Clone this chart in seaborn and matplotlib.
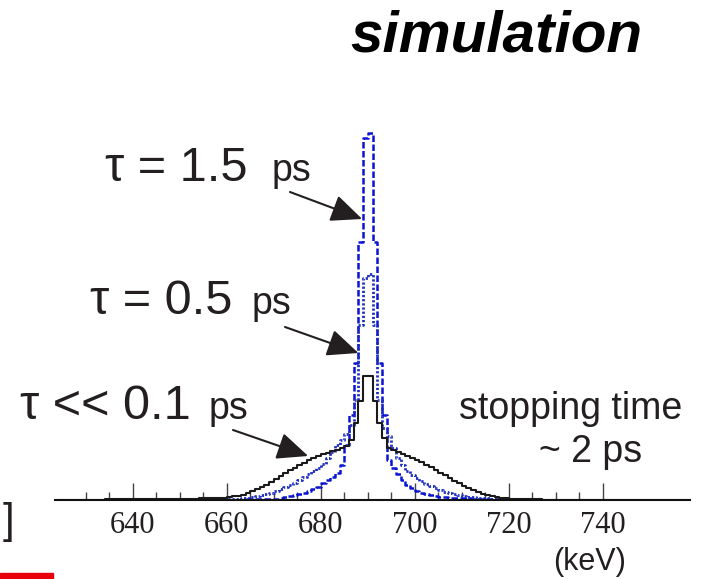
"""
Doppler line shape simulation: three lifetimes compared with a ~2 ps stopping time
"""
import numpy as np
import pandas as pd
import matplotlib.pyplot as plt
import seaborn as sns
from matplotlib.patches import Rectangle
from matplotlib.ticker import FixedLocator

# Energy bins (keV), 1 keV wide, left edges 624 ... 758
energy = np.arange(624, 759)

# tau = 1.5 ps (blue dashed)
counts_tau_long = [
    0.3, 0.3, 0.3, 0.3, 0.3, 0.3, 0.3, 0.3, 0.3, 0.3, 0.3, 0.3, 0.3, 0.3, 0.3, 0.3,  # 624-639
    0.3, 0.3, 0.3, 0.3, 0.3, 0.3, 0.3, 0.3, 0.3, 0.3,  # 640-649
    0.3, 0.3, 0.3, 0.3, 0.3, 0.3, 0.3, 0.3, 0.3, 0.3,  # 650-659
    0.4, 0.4, 0.5, 0.5, 0.6, 0.7, 0.8, 0.9, 1.0, 1.2,  # 660-669
    1.5, 2, 3, 4, 5, 6, 7.5, 9, 11, 13,  # 670-679
    17, 20, 23, 27, 35, 55, 85, 137, 258, 362,  # 680-689
    367, 258, 137, 85, 40, 32, 26, 20, 15, 12,  # 690-699
    9, 7, 6, 5, 4, 3.5, 3, 2.5, 2.2, 2,  # 700-709
    1.8, 1.6, 1.4, 1.2, 1.0, 0.9, 0.8, 0.7, 0.6, 0.5,  # 710-719
    0.4, 0.4, 0.4, 0.4, 0.4, 0.3, 0.3, 0.3, 0.3, 0.3,  # 720-729
    0.3, 0.3, 0.3, 0.3, 0.3, 0.3, 0.3, 0.3, 0.3, 0.3,  # 730-739
    0.2, 0.2, 0.2, 0.2, 0.2, 0.2, 0.2, 0.2, 0.2, 0.2,  # 740-749
    0.2, 0.2, 0.2, 0.2, 0.2, 0.2, 0.2, 0.2, 0.2,  # 750-758
]

# tau = 0.5 ps (blue dotted)
counts_tau_mid = [
    0.2, 0.2, 0.2, 0.2, 0.3, 0.3, 0.3, 0.3, 0.3, 0.3, 0.3, 0.3, 0.4, 0.4, 0.4, 0.4,  # 624-639
    0.4, 0.4, 0.4, 0.4, 0.5, 0.5, 0.5, 0.5, 0.5, 0.5,  # 640-649
    0.5, 0.5, 0.5, 0.6, 0.6, 0.6, 0.6, 0.7, 0.7, 0.7,  # 650-659
    0.8, 1.0, 1.2, 1.7, 2.3, 3, 4, 5, 6, 7.5,  # 660-669
    9, 11, 13, 15, 17, 20, 23, 26, 29, 32,  # 670-679
    36, 42, 48, 55, 60, 66, 75, 100, 175, 222,  # 680-689
    226, 175, 100, 72, 64, 52, 42, 35, 29, 25,  # 690-699
    22, 19, 16, 14, 12, 10, 8.5, 7, 6, 5,  # 700-709
    4, 3.5, 3, 2.5, 2, 1.7, 1.4, 1.2, 1.0, 0.9,  # 710-719
    0.8, 0.7, 0.7, 0.6, 0.6, 0.5, 0.5, 0.5, 0.5, 0.4,  # 720-729
    0.4, 0.4, 0.4, 0.4, 0.4, 0.4, 0.4, 0.4, 0.3, 0.3,  # 730-739
    0.3, 0.3, 0.3, 0.3, 0.3, 0.3, 0.3, 0.3, 0.3, 0.3,  # 740-749
    0.3, 0.3, 0.3, 0.3, 0.3, 0.3, 0.3, 0.3, 0.3,  # 750-758
]

# tau << 0.1 ps (black solid)
counts_tau_short = [
    0.3, 0.3, 0.4, 0.4, 0.4, 0.4, 0.5, 0.5, 0.5, 0.5, 0.6, 0.6, 0.6, 0.7, 0.7, 0.8,  # 624-639
    0.8, 0.9, 0.9, 1.0, 1.0, 1.0, 1.1, 1.1, 1.1, 1.2,  # 640-649
    1.2, 1.3, 1.4, 1.5, 1.6, 1.7, 1.8, 1.9, 2.0, 2.2,  # 650-659
    3, 4, 4.5, 5.5, 7, 9, 11, 13, 15.5, 18,  # 660-669
    21, 24, 27, 30, 32, 35, 37, 40, 42, 44,  # 670-679
    46, 47, 49, 50, 52, 54, 60, 77, 99, 124,  # 680-689
    124, 99, 77, 62, 52, 50, 48, 46, 44, 42,  # 690-699
    40, 38, 35, 33, 30, 27, 25, 22, 19, 17,  # 700-709
    14, 12, 10, 8, 6.5, 5, 4, 3, 2.3, 1.8,  # 710-719
    1.4, 1.1, 0.9, 0.8, 0.7, 0.6, 0.6, 0.5, 0.5, 0.5,  # 720-729
    0.4, 0.4, 0.4, 0.4, 0.4, 0.4, 0.4, 0.4, 0.4, 0.4,  # 730-739
    0.4, 0.4, 0.3, 0.3, 0.3, 0.3, 0.3, 0.3, 0.3, 0.3,  # 740-749
    0.3, 0.3, 0.3, 0.3, 0.3, 0.3, 0.3, 0.3, 0.3,  # 750-758
]

major_ticks = [640, 660, 680, 700, 720, 740]
minor_ticks = [630, 635, 645, 650, 655, 665, 670, 675, 685, 690, 695,
               705, 710, 715, 725, 730, 735]

TEXT_COLOR = '#231f20'
SANS = ['Liberation Sans', 'DejaVu Sans']
W, H = 710, 579

sns.set_style('white')
plt.rcParams['font.family'] = SANS

fig = plt.figure(figsize=(W / 100, H / 100), dpi=100)
ax = fig.add_axes([55 / W, 79 / H, 635 / W, 380 / H])

series = [
    (counts_tau_long, '#0a14d2', (0, (2.6, 1.0)), 1.8),
    (counts_tau_mid, '#1f2fbf', (0, (0.8, 0.7)), 2.0),
    (counts_tau_short, '#1a1a1a', '-', 1.5),
]
for counts, color, ls, lw in series:
    df = pd.DataFrame({'energy': energy, 'counts': counts})
    sns.histplot(data=df, x='energy', weights='counts', binwidth=1,
                 binrange=(energy[0], energy[-1] + 1), element='step',
                 fill=False, color=color, linestyle=ls, linewidth=lw, ax=ax)

ax.set_xlim(623.4, 758.6)
ax.set_ylim(0, 380)
ax.set_ylabel('')
ax.set_yticks([])
for side in ['left', 'right', 'top']:
    ax.spines[side].set_visible(False)
ax.spines['bottom'].set_color('#111111')
ax.spines['bottom'].set_linewidth(1.5)

ax.xaxis.set_major_locator(FixedLocator(major_ticks))
ax.xaxis.set_minor_locator(FixedLocator(minor_ticks))
ax.tick_params(axis='x', which='both', bottom=True)
ax.tick_params(axis='x', which='major', direction='in', length=12, width=1.0,
               color='#444444', pad=8, labelsize=22, labelcolor=TEXT_COLOR)
ax.tick_params(axis='x', which='minor', direction='in', length=6, width=1.0,
               color='#444444')
for lab in ax.get_xticklabels():
    lab.set_fontfamily(['Liberation Serif', 'DejaVu Serif'])

ax.set_xlabel('(keV)', fontsize=22, color=TEXT_COLOR)
ax.xaxis.set_label_coords((590 - 55) / 635, (500 - 562) / 380)
ax.xaxis.label.set_va('center')


def ftext(x, y, s, **kw):
    # place text using pixel positions measured on the reference (top-left origin)
    return fig.text(x / W, 1 - y / H, s, color=kw.pop('color', TEXT_COLOR), **kw)


ftext(350, 52, 'simulation', fontsize=42, fontweight='bold', fontstyle='italic',
      color='black', va='baseline')

ftext(105, 181, 'τ = 1.5', fontsize=35, va='baseline')
ftext(272, 181, 'ps', fontsize=27, va='baseline')
ftext(90, 314, 'τ = 0.5', fontsize=35, va='baseline')
ftext(252, 314, 'ps', fontsize=27, va='baseline')
ftext(20, 419, 'τ << 0.1', fontsize=35, va='baseline')
ftext(209, 419, 'ps', fontsize=27, va='baseline')

ftext(571, 419, 'stopping time', fontsize=27, va='baseline', ha='center')
ftext(591, 462, '~ 2 ps', fontsize=27, va='baseline', ha='center')

ftext(8, 522, ']', fontsize=30, va='center', ha='center')

arrow_kw = dict(arrowstyle='-|>,head_length=0.8,head_width=0.35', color=TEXT_COLOR,
                lw=1.5, mutation_scale=24, shrinkA=0, shrinkB=0)
arrows = [((290, 192), (688.8, 281)),
          ((285, 327), (688.0, 147)),
          ((233, 430), (677.3, 44))]
for (tx, ty), tip in arrows:
    ax.annotate('', xy=tip, xycoords='data',
                xytext=(tx / W, 1 - ty / H), textcoords='figure fraction',
                arrowprops=arrow_kw, annotation_clip=False)

fig.patches.append(Rectangle((0, 0), 53 / W, 6 / H, transform=fig.transFigure,
                             color='#e8000b', zorder=5))

fig.savefig('out.png', dpi=100)
plt.close(fig)
